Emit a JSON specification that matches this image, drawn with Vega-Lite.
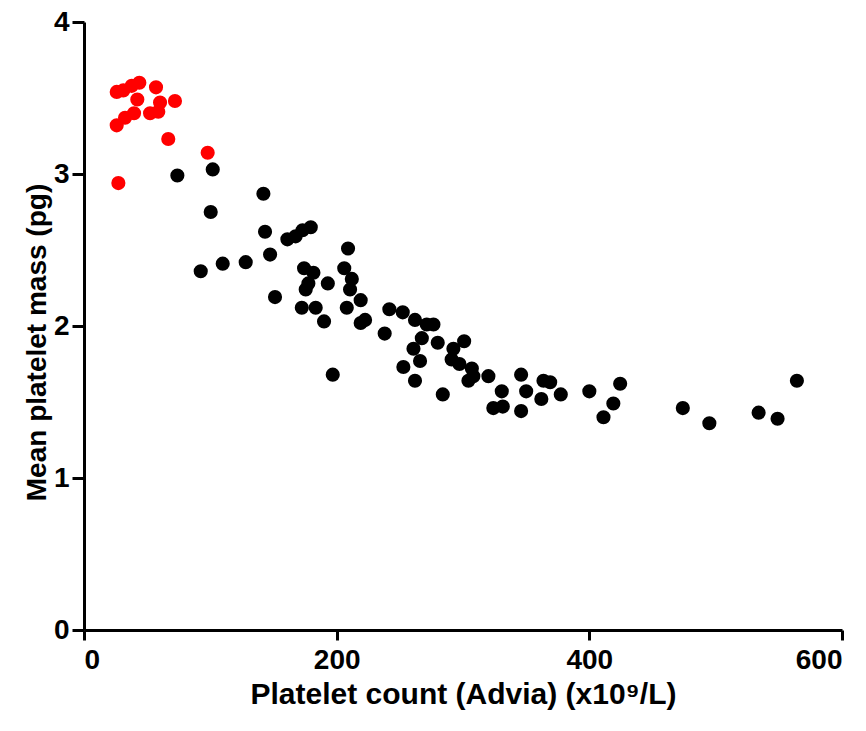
{
  "$schema": "https://vega.github.io/schema/vega-lite/v6.json",
  "autosize": "none",
  "width": 758,
  "height": 608,
  "padding": {"left": 84, "top": 22, "right": 24, "bottom": 101},
  "background": "white",
  "config": {
    "view": {"stroke": null},
    "axis": {
      "grid": false,
      "domainColor": "black",
      "domainWidth": 3,
      "tickColor": "black",
      "tickWidth": 3,
      "labelFont": "'Liberation Sans', Arial, sans-serif",
      "labelFontWeight": "bold",
      "labelFontSize": 28,
      "labelColor": "black",
      "titleFont": "'Liberation Sans', Arial, sans-serif",
      "titleFontWeight": "bold",
      "titleFontSize": 29,
      "titleColor": "black"
    }
  },
  "data": {
    "values": [
      {"count": 25.9, "mass": 3.54, "group": "low"},
      {"count": 31.1, "mass": 3.55, "group": "low"},
      {"count": 37.8, "mass": 3.58, "group": "low"},
      {"count": 43.8, "mass": 3.60, "group": "low"},
      {"count": 57.0, "mass": 3.57, "group": "low"},
      {"count": 42.2, "mass": 3.49, "group": "low"},
      {"count": 72.0, "mass": 3.48, "group": "low"},
      {"count": 60.2, "mass": 3.47, "group": "low"},
      {"count": 52.3, "mass": 3.40, "group": "low"},
      {"count": 58.8, "mass": 3.41, "group": "low"},
      {"count": 39.6, "mass": 3.40, "group": "low"},
      {"count": 32.5, "mass": 3.37, "group": "low"},
      {"count": 25.9, "mass": 3.32, "group": "low"},
      {"count": 66.7, "mass": 3.23, "group": "low"},
      {"count": 97.9, "mass": 3.14, "group": "low"},
      {"count": 27.2, "mass": 2.94, "group": "low"},
      {"count": 73.9, "mass": 2.99, "group": "normal"},
      {"count": 101.9, "mass": 3.03, "group": "normal"},
      {"count": 142.0, "mass": 2.87, "group": "normal"},
      {"count": 100.3, "mass": 2.75, "group": "normal"},
      {"count": 143.3, "mass": 2.62, "group": "normal"},
      {"count": 161.0, "mass": 2.57, "group": "normal"},
      {"count": 167.5, "mass": 2.59, "group": "normal"},
      {"count": 173.0, "mass": 2.63, "group": "normal"},
      {"count": 179.5, "mass": 2.65, "group": "normal"},
      {"count": 147.3, "mass": 2.47, "group": "normal"},
      {"count": 92.4, "mass": 2.36, "group": "normal"},
      {"count": 109.8, "mass": 2.41, "group": "normal"},
      {"count": 128.0, "mass": 2.42, "group": "normal"},
      {"count": 209.0, "mass": 2.51, "group": "normal"},
      {"count": 174.2, "mass": 2.38, "group": "normal"},
      {"count": 181.6, "mass": 2.35, "group": "normal"},
      {"count": 206.0, "mass": 2.38, "group": "normal"},
      {"count": 193.0, "mass": 2.28, "group": "normal"},
      {"count": 212.0, "mass": 2.31, "group": "normal"},
      {"count": 177.6, "mass": 2.28, "group": "normal"},
      {"count": 175.5, "mass": 2.24, "group": "normal"},
      {"count": 210.6, "mass": 2.24, "group": "normal"},
      {"count": 151.2, "mass": 2.19, "group": "normal"},
      {"count": 219.0, "mass": 2.17, "group": "normal"},
      {"count": 172.4, "mass": 2.12, "group": "normal"},
      {"count": 183.4, "mass": 2.12, "group": "normal"},
      {"count": 208.0, "mass": 2.12, "group": "normal"},
      {"count": 190.0, "mass": 2.03, "group": "normal"},
      {"count": 219.0, "mass": 2.02, "group": "normal"},
      {"count": 222.5, "mass": 2.04, "group": "normal"},
      {"count": 241.7, "mass": 2.11, "group": "normal"},
      {"count": 252.3, "mass": 2.09, "group": "normal"},
      {"count": 238.0, "mass": 1.95, "group": "normal"},
      {"count": 196.9, "mass": 1.68, "group": "normal"},
      {"count": 252.8, "mass": 1.73, "group": "normal"},
      {"count": 262.0, "mass": 2.04, "group": "normal"},
      {"count": 271.3, "mass": 2.01, "group": "normal"},
      {"count": 276.6, "mass": 2.01, "group": "normal"},
      {"count": 267.4, "mass": 1.92, "group": "normal"},
      {"count": 260.8, "mass": 1.85, "group": "normal"},
      {"count": 280.0, "mass": 1.89, "group": "normal"},
      {"count": 300.9, "mass": 1.90, "group": "normal"},
      {"count": 292.4, "mass": 1.85, "group": "normal"},
      {"count": 291.0, "mass": 1.78, "group": "normal"},
      {"count": 297.2, "mass": 1.75, "group": "normal"},
      {"count": 266.0, "mass": 1.77, "group": "normal"},
      {"count": 262.0, "mass": 1.64, "group": "normal"},
      {"count": 307.0, "mass": 1.72, "group": "normal"},
      {"count": 308.2, "mass": 1.67, "group": "normal"},
      {"count": 304.3, "mass": 1.64, "group": "normal"},
      {"count": 320.1, "mass": 1.67, "group": "normal"},
      {"count": 284.0, "mass": 1.55, "group": "normal"},
      {"count": 330.7, "mass": 1.57, "group": "normal"},
      {"count": 324.0, "mass": 1.46, "group": "normal"},
      {"count": 331.5, "mass": 1.47, "group": "normal"},
      {"count": 346.0, "mass": 1.68, "group": "normal"},
      {"count": 350.0, "mass": 1.57, "group": "normal"},
      {"count": 346.0, "mass": 1.44, "group": "normal"},
      {"count": 363.7, "mass": 1.64, "group": "normal"},
      {"count": 369.0, "mass": 1.63, "group": "normal"},
      {"count": 362.0, "mass": 1.52, "group": "normal"},
      {"count": 377.4, "mass": 1.55, "group": "normal"},
      {"count": 400.0, "mass": 1.57, "group": "normal"},
      {"count": 424.4, "mass": 1.62, "group": "normal"},
      {"count": 419.0, "mass": 1.49, "group": "normal"},
      {"count": 411.2, "mass": 1.40, "group": "normal"},
      {"count": 474.0, "mass": 1.46, "group": "normal"},
      {"count": 495.0, "mass": 1.36, "group": "normal"},
      {"count": 534.0, "mass": 1.43, "group": "normal"},
      {"count": 549.0, "mass": 1.39, "group": "normal"},
      {"count": 564.3, "mass": 1.64, "group": "normal"}
    ]
  },
  "mark": {"type": "circle", "size": 200, "opacity": 1},
  "encoding": {
    "x": {
      "field": "count", "type": "quantitative",
      "scale": {"domain": [0, 600], "nice": false, "zero": true},
      "axis": {"values": [0, 200, 400, 600], "tickSize": 10, "labelPadding": 6, "title": "Platelet count (Advia) (x10⁹/L)", "titlePadding": 5, "titleFontSize": 30}
    },
    "y": {
      "field": "mass", "type": "quantitative",
      "scale": {"domain": [0, 4], "nice": false},
      "axis": {"values": [0, 1, 2, 3, 4], "tickSize": 12, "labelPadding": 3, "title": "Mean platelet mass (pg)", "titlePadding": 2, "titleY": 320, "titleFontSize": 28}
    },
    "color": {
      "field": "group", "type": "nominal",
      "scale": {"domain": ["low", "normal"], "range": ["#ff0000", "#000000"]},
      "legend": null
    }
  }
}
